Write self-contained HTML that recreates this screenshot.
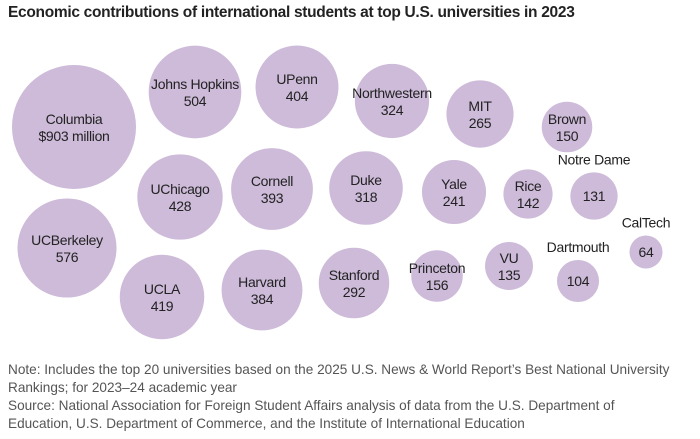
<!DOCTYPE html>
<html><head><meta charset="utf-8">
<style>
body{margin:0;background:#fff;width:700px;height:439px;overflow:hidden;font-family:"Liberation Sans",sans-serif;}
#title{position:absolute;left:8px;top:4px;font-size:15.5px;font-weight:bold;color:#222;letter-spacing:-0.3px}
#note{position:absolute;left:8px;top:361px;font-size:13.6px;line-height:18px;color:#555;white-space:nowrap}
svg{position:absolute;left:0;top:0}
</style></head><body>
<div id="title">Economic contributions of international students at top U.S. universities in 2023</div>
<svg id="chart" width="700" height="360"></svg>
<div id="note">Note: Includes the top 20 universities based on the 2025 U.S. News &amp; World Report’s Best National University<br>Rankings; for 2023–24 academic year<br>Source: National Association for Foreign Student Affairs analysis of data from the U.S. Department of<br>Education, U.S. Department of Commerce, and the Institute of International Education</div>
<script>
const names=["Columbia","Johns Hopkins","UPenn","Northwestern","MIT","Brown","Notre Dame","CalTech","UChicago","Cornell","Duke","Yale","Rice","UCBerkeley","UCLA","Harvard","Stanford","Princeton","VU","Dartmouth"];
const values=[903,504,404,324,265,150,131,64,428,393,318,241,142,576,419,384,292,156,135,104];
const labels=["$903 million","504","404","324","265","150","131","64","428","393","318","241","142","576","419","384","292","156","135","104"];
// layout (packing positions, not data)
const cx=[74,195,297,392,480,567,594,646,180,272,366,454,528,67,162,262,354,437,509,578];
const cy=[127,92,87,101,114,127,196,252,197,189,188,192,194,248,297,290,283,276,266,281];
const outside=[false,false,false,false,false,false,true,true,false,false,false,false,false,false,false,false,false,false,false,true];
const k=62/Math.sqrt(903);
const r=v=>k*Math.sqrt(v);
const svg=document.getElementById('chart');
const NS='http://www.w3.org/2000/svg';
names.forEach((n,i)=>{
  const g=document.createElementNS(NS,'g');
  
  
  const c=document.createElementNS(NS,'circle');
  
  
  c.setAttribute('cx',cx[i]);c.setAttribute('cy',cy[i]);c.setAttribute('r',r(values[i]));
  c.setAttribute('fill','#cdbbd9');
  g.appendChild(c);
  const mk=(txt,y,nm)=>{const t=document.createElementNS(NS,'text');
    
    
    t.setAttribute('x',cx[i]);t.setAttribute('y',y);t.setAttribute('text-anchor','middle');
    t.setAttribute('font-size','14');t.setAttribute('letter-spacing','-0.3');t.setAttribute('fill','#222');t.textContent=txt;g.appendChild(t);};
  if(outside[i]){
    mk(n,cy[i]-r(values[i])-8,'bubble-name');
    mk(labels[i],cy[i]+5,'bubble-value');
  } else {
    mk(n,cy[i]-3,'bubble-name');
    mk(labels[i],cy[i]+14,'bubble-value');
  }
  svg.appendChild(g);
});
</script>
</body></html>
